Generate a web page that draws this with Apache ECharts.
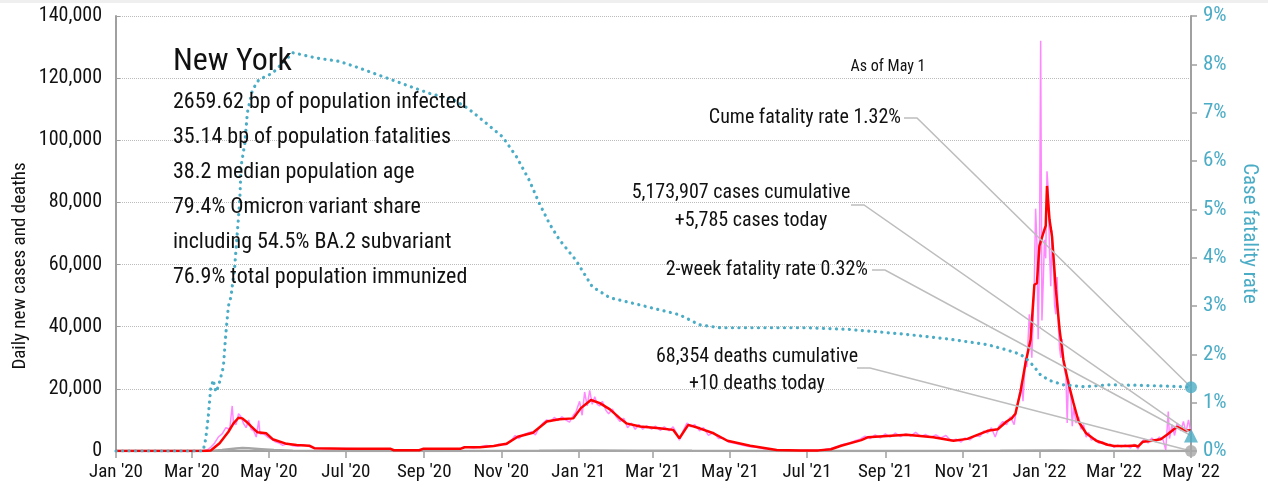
<!DOCTYPE html>
<html><head><meta charset="utf-8">
<script src="https://cdn.jsdelivr.net/npm/echarts@6/dist/echarts.min.js"></script>
<style>html,body{margin:0;padding:0;background:#fff}#c{width:1268px;height:491px}</style>
</head><body><div id="c"></div><script>
// ---------- data ----------
const START = '2020-01-01', END = '2022-05-01';
const leftTicks = [0, 20000, 40000, 60000, 80000, 100000, 120000, 140000];
const rightTicks = [0, 1, 2, 3, 4, 5, 6, 7, 8, 9];

// daily new cases (pink)
const dailyCases = [
['2020-01-01',0],['2020-03-08',0],['2020-03-13',300],['2020-03-16',1200],['2020-03-19',2500],['2020-03-22',4500],
['2020-03-25',5500],['2020-03-28',7500],['2020-03-31',7000],['2020-04-02',14500],['2020-04-03',9000],['2020-04-05',8500],
['2020-04-07',12000],['2020-04-09',11000],['2020-04-11',8800],['2020-04-13',7500],['2020-04-15',10000],['2020-04-17',7000],
['2020-04-19',6500],['2020-04-21',4500],['2020-04-23',9800],['2020-04-24',5500],['2020-04-27',5500],['2020-04-30',4500],
['2020-05-03',3800],['2020-05-06',3000],['2020-05-09',2600],['2020-05-12',1800],['2020-05-16',2400],['2020-05-20',1700],
['2020-05-24',1500],['2020-05-28',2000],['2020-06-02',1400],['2020-06-06',900],['2020-06-15',700],['2020-07-01',800],
['2020-08-05',600],['2020-08-08',200],['2020-08-28',300],['2020-09-01',700],['2020-09-30',800],['2020-10-03',1400],
['2020-10-10',1000],['2020-10-15',1300],['2020-10-20',1800],['2020-10-26',1500],['2020-10-30',2200],['2020-11-05',2000],
['2020-11-09',3500],['2020-11-12',5000],['2020-11-15',4000],['2020-11-18',5200],['2020-11-22',5800],['2020-11-25',6200],
['2020-11-28',5200],['2020-12-01',7500],['2020-12-04',9000],['2020-12-07',10000],['2020-12-10',9500],['2020-12-13',10800],
['2020-12-16',9800],['2020-12-19',11000],['2020-12-22',10000],['2020-12-25',9300],['2020-12-28',11500],['2020-12-30',12500],
['2021-01-02',16000],['2021-01-04',11500],['2021-01-06',19000],['2021-01-08',14500],['2021-01-10',19500],['2021-01-12',15000],
['2021-01-14',17500],['2021-01-16',15000],['2021-01-18',14500],['2021-01-20',16000],['2021-01-23',13000],['2021-01-25',12000],
['2021-01-28',13500],['2021-01-31',11000],['2021-02-03',9500],['2021-02-06',10500],['2021-02-09',7500],['2021-02-12',9000],
['2021-02-15',7000],['2021-02-18',8500],['2021-02-21',7000],['2021-02-24',8200],['2021-02-28',7000],['2021-03-03',8000],
['2021-03-07',6600],['2021-03-10',7800],['2021-03-14',6500],['2021-03-17',7800],['2021-03-20',5500],['2021-03-22',3500],
['2021-03-25',6500],['2021-03-28',9000],['2021-03-31',7800],['2021-04-03',8500],['2021-04-07',6500],['2021-04-10',7500],
['2021-04-14',5000],['2021-04-18',6000],['2021-04-22',4000],['2021-04-26',4200],['2021-04-30',2800],['2021-05-04',2600],
['2021-05-08',2200],['2021-05-12',1800],['2021-05-17',1400],['2021-05-22',1200],['2021-05-28',700],['2021-06-03',500],
['2021-06-10',300],['2021-06-20',150],['2021-07-01',250],['2021-07-10',300],['2021-07-15',500],['2021-07-20',800],
['2021-07-25',1500],['2021-07-30',2200],['2021-08-04',2600],['2021-08-08',3300],['2021-08-12',3800],['2021-08-16',4800],
['2021-08-20',4000],['2021-08-24',5200],['2021-08-28',4200],['2021-09-01',5500],['2021-09-05',4500],['2021-09-09',5800],
['2021-09-13',4600],['2021-09-17',5500],['2021-09-21',4800],['2021-09-25',6000],['2021-09-29',4700],['2021-10-03',5300],
['2021-10-07',4400],['2021-10-11',5200],['2021-10-15',4200],['2021-10-19',5000],['2021-10-23',3300],['2021-10-27',3800],
['2021-10-31',2900],['2021-11-03',4200],['2021-11-07',3600],['2021-11-11',5000],['2021-11-15',4700],['2021-11-18',6500],
['2021-11-21',5800],['2021-11-24',7500],['2021-11-27',4500],['2021-11-30',8000],['2021-12-03',9500],['2021-12-06',8500],
['2021-12-09',11000],['2021-12-12',8500],['2021-12-14',14000],['2021-12-16',18000],['2021-12-18',22000],['2021-12-19',16000],
['2021-12-21',30000],['2021-12-22',27000],['2021-12-24',44000],['2021-12-25',38000],['2021-12-26',30000],['2021-12-28',55000],
['2021-12-29',78000],['2021-12-30',67000],['2021-12-31',36000],['2022-01-01',60000],['2022-01-02',132000],['2022-01-03',42000],
['2022-01-04',54000],['2022-01-05',68000],['2022-01-06',62000],['2022-01-07',90000],['2022-01-08',84000],['2022-01-09',64000],
['2022-01-10',53000],['2022-01-11',71000],['2022-01-12',60000],['2022-01-13',47000],['2022-01-14',44000],['2022-01-15',56000],
['2022-01-16',40000],['2022-01-17',33000],['2022-01-18',30000],['2022-01-19',36000],['2022-01-20',28000],['2022-01-22',24000],
['2022-01-23',9000],['2022-01-24',23000],['2022-01-26',17000],['2022-01-27',8000],['2022-01-28',14000],['2022-01-30',9000],
['2022-02-01',11000],['2022-02-03',7000],['2022-02-05',8500],['2022-02-07',4500],['2022-02-09',6000],['2022-02-11',3500],
['2022-02-14',4000],['2022-02-17',2500],['2022-02-20',3000],['2022-02-23',1800],['2022-02-26',2200],['2022-03-01',1200],
['2022-03-04',1900],['2022-03-07',1300],['2022-03-10',2000],['2022-03-14',1000],['2022-03-17',2200],['2022-03-20',600],
['2022-03-22',2500],['2022-03-25',3800],['2022-03-28',2600],['2022-03-31',4200],['2022-04-03',3000],['2022-04-06',4500],
['2022-04-09',3500],['2022-04-11',300],['2022-04-13',12700],['2022-04-14',4000],['2022-04-16',8500],['2022-04-18',5000],
['2022-04-20',9000],['2022-04-23',6500],['2022-04-25',9500],['2022-04-27',6000],['2022-04-29',10000],['2022-05-01',5785]
];

// 7-day average cases (red)
const avgCases = [
['2020-01-01',0],['2020-03-10',0],['2020-03-16',150],['2020-03-23',2500],['2020-03-30',6200],['2020-04-03',8900],
['2020-04-07',10700],['2020-04-10',10500],['2020-04-13',9500],['2020-04-17',7900],['2020-04-22',6000],['2020-04-29',5700],
['2020-05-04',3800],['2020-05-15',2300],['2020-05-23',1900],['2020-06-02',1700],['2020-06-06',900],['2020-07-01',750],
['2020-08-05',750],['2020-08-08',250],['2020-08-28',250],['2020-08-31',700],['2020-09-30',750],['2020-10-03',1200],
['2020-10-15',1200],['2020-10-26',1600],['2020-11-05',2300],['2020-11-14',4600],['2020-11-26',5900],['2020-12-07',9500],
['2020-12-17',10200],['2020-12-28',10500],['2021-01-03',13800],['2021-01-11',16400],['2021-01-18',15400],['2021-01-26',13400],
['2021-02-03',10500],['2021-02-08',8900],['2021-02-19',7900],['2021-03-06',7300],['2021-03-17',6800],['2021-03-22',4100],
['2021-03-29',8400],['2021-04-07',7300],['2021-04-18',5700],['2021-04-29',3300],['2021-05-17',1700],['2021-06-07',300],
['2021-06-26',150],['2021-07-10',200],['2021-07-20',550],['2021-07-28',1700],['2021-08-13',3500],['2021-08-18',4400],
['2021-09-18',5200],['2021-10-09',4400],['2021-10-25',3300],['2021-11-05',3900],['2021-11-21',6500],['2021-11-29',7000],
['2021-12-06',9500],['2021-12-10',10500],['2021-12-13',12000],['2021-12-17',19000],['2021-12-21',28300],['2021-12-25',35800],
['2021-12-28',53500],['2021-12-30',54000],['2022-01-01',66000],['2022-01-04',70000],['2022-01-06',72500],['2022-01-07',85300],
['2022-01-09',74500],['2022-01-11',69000],['2022-01-14',52000],['2022-01-17',39000],['2022-01-20',29300],['2022-01-24',21800],
['2022-01-28',15400],['2022-02-01',9500],['2022-02-07',5700],['2022-02-15',3300],['2022-02-24',2000],['2022-03-01',1600],
['2022-03-11',1600],['2022-03-18',1800],['2022-03-20',1400],['2022-03-24',3000],['2022-03-31',3300],['2022-04-07',3800],
['2022-04-12',5200],['2022-04-20',7800],['2022-04-26',6600],['2022-05-01',6700]
];

// daily deaths (gray)
const dailyDeaths = [
['2020-01-01',0],['2020-03-15',0],['2020-03-25',300],['2020-04-05',800],['2020-04-10',1000],['2020-04-15',900],
['2020-04-25',600],['2020-05-05',300],['2020-05-20',100],['2020-06-10',30],['2020-09-01',10],['2020-12-01',60],
['2021-01-10',180],['2021-02-15',120],['2021-04-01',60],['2021-06-01',20],['2021-09-01',40],['2021-12-01',50],
['2022-01-15',200],['2022-02-15',80],['2022-03-15',20],['2022-05-01',10]
];

// cumulative case fatality rate, % (teal, right axis)
const cfr = [
['2020-01-01',0],['2020-03-10',0],['2020-03-12',0.25],['2020-03-14',0.7],['2020-03-16',1.3],['2020-03-18',1.47],
['2020-03-20',1.22],['2020-03-22',1.33],['2020-03-26',1.74],['2020-03-28',2.44],['2020-03-30',3.0],['2020-04-01',3.19],
['2020-04-04',3.82],['2020-04-06',4.5],['2020-04-08',5.2],['2020-04-09',5.89],['2020-04-12',6.37],['2020-04-14',7.0],
['2020-04-18',7.47],['2020-04-23',7.68],['2020-05-04',7.82],['2020-05-12',8.03],['2020-05-20',8.24],['2020-06-08',8.13],
['2020-06-26',8.06],['2020-07-12',7.92],['2020-08-02',7.72],['2020-08-21',7.54],['2020-09-05',7.4],['2020-09-24',7.27],
['2020-10-05',7.1],['2020-10-15',6.89],['2020-11-02',6.5],['2020-11-13',6.09],['2020-11-23',5.61],['2020-12-01',5.13],
['2020-12-09',4.71],['2020-12-17',4.37],['2020-12-30',3.95],['2021-01-12',3.4],['2021-01-26',3.17],['2021-02-19',3.02],
['2021-03-22',2.82],['2021-04-07',2.61],['2021-04-23',2.55],['2021-07-01',2.55],['2021-08-01',2.52],['2021-09-15',2.42],
['2021-10-20',2.32],['2021-11-21',2.2],['2021-12-05',2.1],['2021-12-17',2.0],['2021-12-22',1.9],['2021-12-27',1.77],
['2022-01-02',1.57],['2022-01-09',1.46],['2022-01-20',1.37],['2022-02-05',1.33],['2022-02-25',1.37],['2022-03-20',1.36],
['2022-04-15',1.34],['2022-05-01',1.32]
];

const endCfr = 1.32, endTwoWeek = 0.32, endCasesToday = 5785, endDeathsToday = 10;

const infoTitle = 'New York';
const infoLines = ['2659.62 bp of population infected','35.14 bp of population fatalities','38.2 median population age',
  '79.4% Omicron variant share','including 54.5% BA.2 subvariant','76.9% total population immunized'];

// ---------- build ----------
const FONT = '"Liberation Sans Narrow","Arial Narrow","Roboto Condensed","DejaVu Sans Condensed",sans-serif';
const TEAL = '#4bacc6';
const MONTHS = ['Jan','Feb','Mar','Apr','May','Jun','Jul','Aug','Sep','Oct','Nov','Dec'];
const days = [];
for (let t = Date.UTC(2020,0,1); t <= Date.UTC(2022,4,1); t += 86400000) {
  const d = new Date(t);
  days.push(d.getUTCFullYear() + '-' + String(d.getUTCMonth()+1).padStart(2,'0') + '-' + String(d.getUTCDate()).padStart(2,'0'));
}
const isTick = (i, v) => v.slice(8) === '01' && (+v.slice(5,7)) % 2 === 1;

const chart = echarts.init(document.getElementById('c'), null, {renderer:'canvas'});
chart.setOption({
  animation: false,
  backgroundColor: '#fff',
  textStyle: {fontFamily: FONT},
  grid: {left: 116, right: 77, top: 16, bottom: 40},
  xAxis: {
    type: 'category', data: days, boundaryGap: false,
    axisLine: {lineStyle: {color: '#a0a0a0', width: 2}},
    axisTick: {interval: isTick, length: 7, lineStyle: {color: '#a0a0a0', width: 1.5}},
    axisLabel: {interval: isTick, color: '#111', fontSize: 19, fontFamily: FONT, margin: 12,
      formatter: v => MONTHS[+v.slice(5,7)-1] + " '" + v.slice(2,4)},
    splitLine: {show: false}
  },
  yAxis: [{
    type: 'value', min: leftTicks[0], max: leftTicks[leftTicks.length-1], interval: leftTicks[1]-leftTicks[0],
    axisLine: {show: true, lineStyle: {color: '#a0a0a0', width: 2}},
    axisTick: {show: true, inside: true, length: 4, lineStyle: {color: '#a0a0a0'}},
    axisLabel: {color: '#111', fontSize: 20, fontFamily: FONT, margin: 14, formatter: v => v.toLocaleString('en-US')},
    splitLine: {show: true, lineStyle: {color: '#bbbbbb', type: 'dotted', width: 1}}
  }, {
    type: 'value', min: rightTicks[0], max: rightTicks[rightTicks.length-1], interval: 1, position: 'right',
    name: 'Case fatality rate', nameLocation: 'middle', nameGap: 48, nameRotate: -90,
    nameTextStyle: {color: TEAL, fontSize: 21, fontFamily: FONT},
    axisLine: {show: true, lineStyle: {color: '#a0a0a0', width: 2}},
    axisTick: {show: true, length: 6, lineStyle: {color: '#a0a0a0', width: 1.5}},
    axisLabel: {color: TEAL, fontSize: 21, fontFamily: FONT, margin: 12, formatter: v => v + '%'},
    splitLine: {show: false}
  }],
  series: [
    {name: 'daily', type: 'line', data: dailyCases, showSymbol: false, z: 2,
      lineStyle: {color: '#ff88ff', width: 1.5}},
    {name: 'deaths', type: 'line', data: dailyDeaths, showSymbol: false, z: 2,
      lineStyle: {color: '#a6a6a6', width: 2.5}},
    {name: 'avg', type: 'line', data: avgCases, showSymbol: false, z: 3,
      lineStyle: {color: '#ff0000', width: 2.5}},
    {name: 'cfr', type: 'line', yAxisIndex: 1, data: cfr, showSymbol: false, z: 4,
      lineStyle: {color: TEAL, width: 3.2, type: [0.1, 6.4], cap: 'round'}},
    {name: 'endR', type: 'scatter', yAxisIndex: 1, z: 6,
      data: [{value: [END, endCfr], symbol: 'circle', symbolSize: 12},
             {value: [END, endTwoWeek], symbol: 'triangle', symbolSize: 14}],
      itemStyle: {color: TEAL}},
    {name: 'endL', type: 'scatter', yAxisIndex: 0, z: 6,
      data: [{value: [END, endDeathsToday], symbol: 'circle', symbolSize: 12}],
      itemStyle: {color: '#a6a6a6'}}
  ]
});

// ---------- annotations ----------
const last = days.length - 1;
const pR = v => chart.convertToPixel({xAxisIndex: 0, yAxisIndex: 1}, [last, v]);
const pL = v => chart.convertToPixel({xAxisIndex: 0, yAxisIndex: 0}, [last, v]);
const txt = (text, x, y, size, align, color) => ({type: 'text', x, y, z: 10, silent: true,
  style: {text, font: size + 'px ' + FONT, fill: color || '#111', align: align || 'left', verticalAlign: 'middle'}});
const leader = (x0, y0, end) => ({type: 'polyline', z: 5, silent: true,
  shape: {points: [[x0, y0], [x0 + 13, y0], end]}, style: {stroke: '#bdbdbd', lineWidth: 1.5, fill: null}});

const yName = txt('Daily new cases and deaths', 20, 266, 19, 'center');
yName.rotation = Math.PI / 2;

const g = [
  {type: 'rect', shape: {x: 0, y: 0, width: 1268, height: 3}, style: {fill: '#efefef'}, silent: true},
  yName,
  txt(infoTitle, 173, 62, 32, 'left'),
  txt('As of May 1', 888, 67, 16, 'center'),
  txt('Cume fatality rate 1.32%', 901, 118, 20, 'right'),
  txt('5,173,907 cases cumulative', 741, 193, 20, 'center'),
  txt('+5,785 cases today', 751, 221, 20, 'center'),
  txt('2-week fatality rate 0.32%', 868, 270, 20, 'right'),
  txt('68,354 deaths cumulative', 757, 357, 20, 'center'),
  txt('+10 deaths today', 757, 384, 20, 'center'),
  leader(904, 118, pR(endCfr)),
  leader(851, 205, pL(endCasesToday)),
  leader(872, 270, pR(endTwoWeek)),
  leader(857, 368, pL(endDeathsToday))
];
infoLines.forEach((s, i) => g.push(txt(s, 173, 102 + i * 35.1, 22, 'left')));
chart.setOption({graphic: g});
</script></body></html>
